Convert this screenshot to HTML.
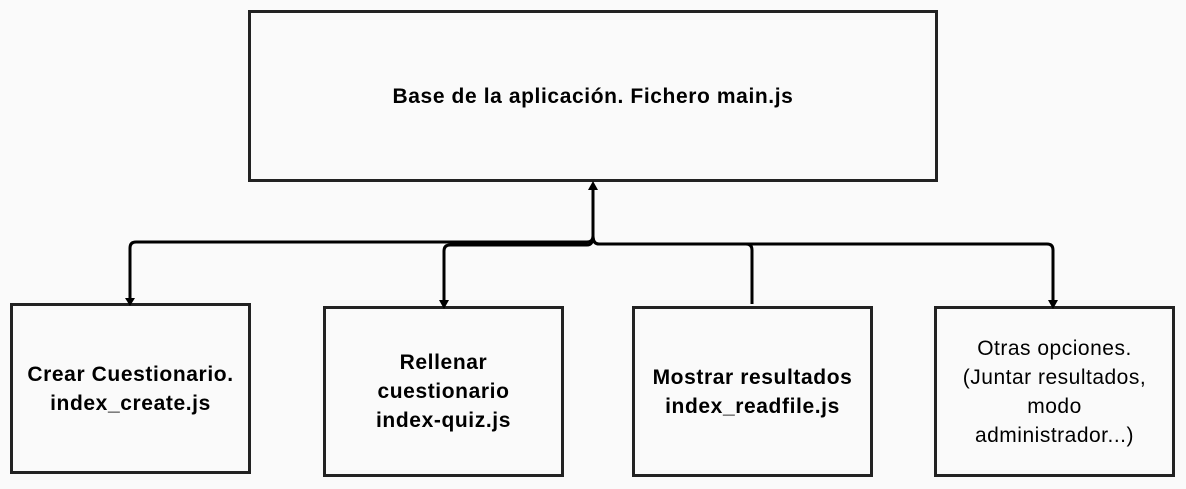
<!DOCTYPE html>
<html><head><meta charset="utf-8"><style>
html,body{margin:0;padding:0;background:#fafafa;}
body{width:1186px;height:489px;position:relative;overflow:hidden;font-family:"Liberation Sans",sans-serif;color:#000;}
.b{position:absolute;box-sizing:border-box;border:3.5px solid #222;display:flex;align-items:center;justify-content:center;text-align:center;font-size:21px;line-height:29px;letter-spacing:0.5px;}
.bold{font-weight:bold;letter-spacing:0.6px;}
svg{position:absolute;left:0;top:0;}
</style></head><body>
<div class="b bold" style="left:248px;top:10px;width:690px;height:172px;">Base de la aplicación. Fichero main.js</div>
<div class="b bold" style="left:10px;top:303px;width:241px;height:171px;">Crear Cuestionario.<br>index_create.js</div>
<div class="b bold" style="left:323px;top:306px;width:241px;height:171px;">Rellenar<br>cuestionario<br>index-quiz.js</div>
<div class="b bold" style="left:632px;top:306px;width:241px;height:171px;">Mostrar resultados<br>index_readfile.js</div>
<div class="b" style="left:934px;top:306px;width:241px;height:171px;">Otras opciones.<br>(Juntar resultados,<br>modo<br>administrador...)</div>
<svg width="1186" height="489">
<g fill="none" stroke="#000" stroke-width="3">
<path d="M593 190 V236 Q593 242 587 242 H136 Q130 242 130 248 V298"/>
<path d="M593 236 Q593 245 587 245 H450 Q444 245 444 251 V300"/>
<path d="M593 236 Q593 244 599 244 H746 Q752 244 752 250 V304"/>
<path d="M593 236 Q593 244 599 244 H1047 Q1053 244 1053 250 V300"/>
</g>
<g fill="#000">
<path d="M588 190 L598 190 L593 181 Z"/>
<path d="M125 298 L135 298 L130 306 Z"/>
<path d="M439 300 L449 300 L444 309 Z"/>
<path d="M1048 300 L1058 300 L1053 309 Z"/>
</g>
</svg>
</body></html>
